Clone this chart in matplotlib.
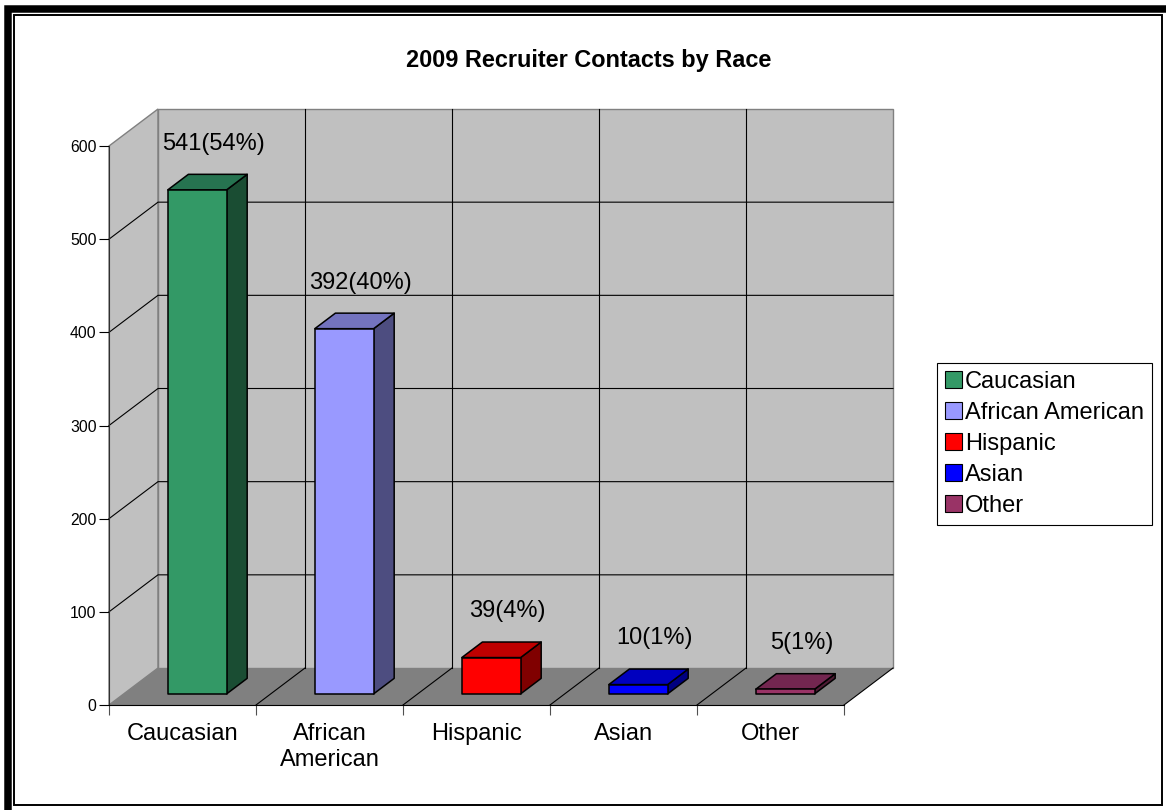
import matplotlib
matplotlib.use("Agg")
import matplotlib.pyplot as plt
from matplotlib.patches import Polygon, Rectangle, Patch

plt.rcParams['font.family'] = ['Liberation Sans', 'DejaVu Sans']

# data
races = ["Caucasian", "African American", "Hispanic", "Asian", "Other"]
tick_names = ["Caucasian", "African\nAmerican", "Hispanic", "Asian", "Other"]
contacts = [541, 392, 39, 10, 5]
pct_labels = ["54%", "40%", "4%", "1%", "1%"]
front_colors = ["#339966", "#9999FF", "#FF0000", "#0000FF", "#993366"]
top_colors = ["#267350", "#7373BF", "#BF0000", "#0000BF", "#732650"]
side_colors = ["#1A4D33", "#4D4D80", "#800000", "#000080", "#4D1A33"]
y_ticks = [0, 100, 200, 300, 400, 500, 600]

# pseudo 3d depth vector (category units, value units)
DX = 49 / 147
DY = 37 / (559 / 600)
D0, D1 = 0.30, 0.72   # bar depth range
BW = 0.4              # bar width
YMAX = 600
N = len(races)


def proj(x, v, d):
    return (x + d * DX, v + d * DY)


fig = plt.figure(figsize=(11.66, 8.10), dpi=100)
ax = fig.add_axes([109 / 1166, 105 / 810, 735 / 1166, 559 / 810])
ax.set_xlim(0, N)
ax.set_ylim(0, YMAX)
ax.patch.set_visible(False)

# walls and floor
side_wall = Polygon([proj(0, 0, 0), proj(0, YMAX, 0), proj(0, YMAX, 1), proj(0, 0, 1)],
                    closed=True, facecolor="#C0C0C0", edgecolor="#808080", lw=1, clip_on=False, zorder=1)
back_wall = Polygon([proj(0, 0, 1), proj(0, YMAX, 1), proj(N, YMAX, 1), proj(N, 0, 1)],
                    closed=True, facecolor="#C0C0C0", edgecolor="#808080", lw=1, clip_on=False, zorder=1)
floor = Polygon([proj(0, 0, 0), proj(N, 0, 0), proj(N, 0, 1), proj(0, 0, 1)],
                closed=True, facecolor="#808080", edgecolor="none", clip_on=False, zorder=1.5)
for p in (side_wall, back_wall, floor):
    ax.add_patch(p)

# gridlines
for v in y_ticks[1:-1]:
    a, b, c = proj(0, v, 0), proj(0, v, 1), proj(N, v, 1)
    ax.plot([a[0], b[0], c[0]], [a[1], b[1], c[1]], color="black", lw=0.8, clip_on=False, zorder=2)
for k in range(1, N):
    a, b = proj(k, 0, 1), proj(k, YMAX, 1)
    ax.plot([a[0], b[0]], [a[1], b[1]], color="black", lw=0.8, clip_on=False, zorder=2)
for k in range(1, N + 1):
    a, b = proj(k, 0, 0), proj(k, 0, 1)
    ax.plot([a[0], b[0]], [a[1], b[1]], color="black", lw=0.8, clip_on=False, zorder=2)

# bars
for i, h in enumerate(contacts):
    x0 = i + 0.5 - BW / 2
    x1 = i + 0.5 + BW / 2
    front = [proj(x0, 0, D0), proj(x1, 0, D0), proj(x1, h, D0), proj(x0, h, D0)]
    top = [proj(x0, h, D0), proj(x1, h, D0), proj(x1, h, D1), proj(x0, h, D1)]
    side = [proj(x1, 0, D0), proj(x1, 0, D1), proj(x1, h, D1), proj(x1, h, D0)]
    for pts, col in ((side, side_colors[i]), (top, top_colors[i]), (front, front_colors[i])):
        ax.add_patch(Polygon(pts, closed=True, facecolor=col, edgecolor="black",
                             lw=1.1, joinstyle="round", clip_on=False, zorder=3))
    lx, ly = proj(i + 0.5, h, D1)
    ax.annotate("{}({})".format(h, pct_labels[i]), (lx, ly), xytext=(-3, 22),
                textcoords="offset points", ha="center", va="center",
                fontsize=17, annotation_clip=False, zorder=4)

# axes styling
for s in ("top", "right"):
    ax.spines[s].set_visible(False)
ax.spines["left"].set_color("#303030")
ax.spines["bottom"].set_color("black")
ax.spines["left"].set_zorder(2.5)
ax.spines["bottom"].set_zorder(2.5)
ax.set_yticks(y_ticks)
ax.tick_params(axis="y", direction="out", length=7, width=0.8, labelsize=11.3, pad=2)
ax.set_xticks(range(N + 1))
ax.set_xticklabels([])
ax.set_xticks([k + 0.5 for k in range(N)], minor=True)
ax.set_xticklabels(tick_names, minor=True, fontsize=17)
for t in ax.get_xticklabels(minor=True):
    t.set_linespacing(1.25)
ax.tick_params(axis="x", which="major", direction="out", length=7, width=0.8, color="#505050")
ax.tick_params(axis="x", which="minor", length=0, pad=13)

# title
fig.text(589 / 1166, 1 - 66.7 / 810, "2009 Recruiter Contacts by Race",
         ha="center", va="baseline", fontsize=16.9, fontweight="bold")

# legend
handles = [Patch(facecolor=c, edgecolor="black", linewidth=0.8) for c in front_colors]
leg = fig.legend(handles, races, loc="upper left",
                 bbox_to_anchor=(937.3 / 1166, (810 - 363.3) / 810),
                 bbox_transform=fig.transFigure, fontsize=17, frameon=True,
                 fancybox=False, edgecolor="black", framealpha=1, borderpad=0.33,
                 handlelength=0.72, handleheight=0.72, handletextpad=0.13,
                 labelspacing=0.38, borderaxespad=0)
leg.get_frame().set_linewidth(0.8)

# double border around the chart
fig.patches.append(Rectangle((7.5 / 1166, -2 / 810), 1170 / 1166, (810 - 9 + 2) / 810,
                             transform=fig.transFigure, fill=False, edgecolor="black",
                             lw=5.4, zorder=10))
fig.patches.append(Rectangle((14.3 / 1166, 5 / 810), (1162 - 14.3) / 1166, (795 - 5) / 810,
                             transform=fig.transFigure, fill=False, edgecolor="black",
                             lw=1.4, zorder=10))

fig.savefig("out.png", dpi=100)
